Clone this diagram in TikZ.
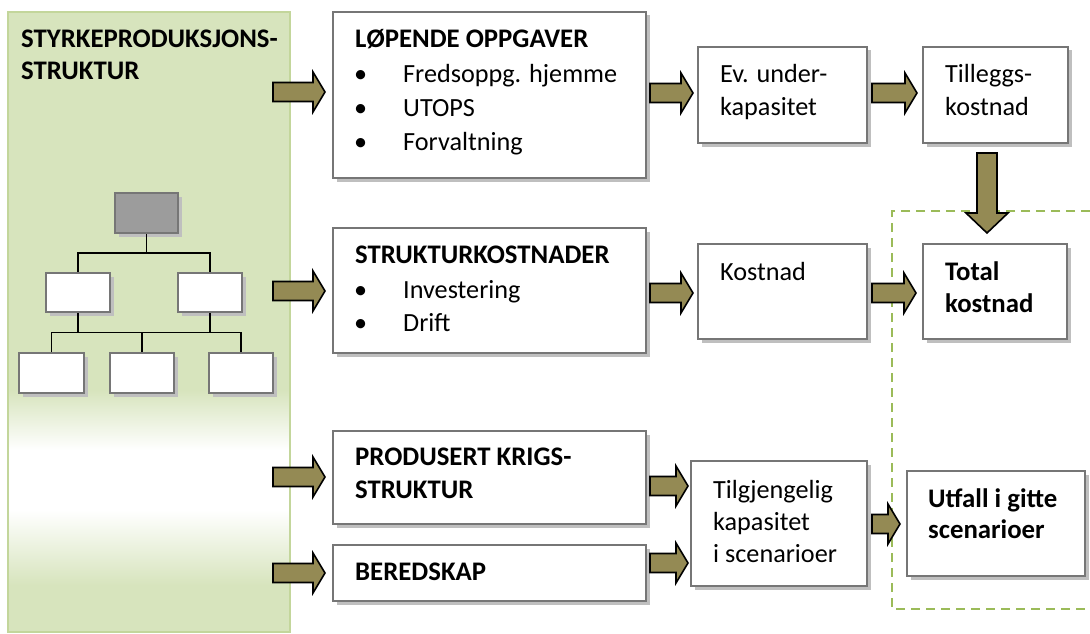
\documentclass[tikz,border=0pt]{standalone}
\usepackage{fontspec}
\setmainfont{Carlito}
\usetikzlibrary{calc,fit,shadows}
\definecolor{panelgreen}{HTML}{D7E4BD}
\definecolor{paneledge}{HTML}{C3D69B}
\definecolor{arrowfill}{HTML}{948A54}
\definecolor{boxedge}{HTML}{767676}
\definecolor{shadowgray}{HTML}{BFBFBF}
\definecolor{dashgreen}{HTML}{9BBB59}
\definecolor{topgray}{HTML}{9C9C9C}
\tikzset{
  box/.style={draw=boxedge, line width=2pt, fill=white, rectangle, inner sep=0pt,
    drop shadow={shadow xshift=3.5pt, shadow yshift=-3.5pt, fill=shadowgray, opacity=1}},
  txt/.style={anchor=base west, inner sep=0pt, font=\fontsize{26.2}{33}\selectfont},
  btxt/.style={anchor=base west, inner sep=0pt, font=\fontsize{26.8}{33}\selectfont\bfseries},
  fat/.style={draw=black, line width=1.6pt, fill=arrowfill, line join=miter},
  tree/.style={draw=black, line width=1.6pt},
}
\newcommand\harrow[3][12]{\draw[fat] let \p1=(#2), \p2=(#3) in
  (\x1,\y1+9.5pt) -- (\x2-#1pt,\y1+9.5pt) -- (\x2-#1pt,\y1+20pt) -- (\x2,\y1)
  -- (\x2-#1pt,\y1-20pt) -- (\x2-#1pt,\y1-9.5pt) -- (\x1,\y1-9.5pt) -- cycle;}
\newcommand\varrow[2]{\draw[fat] let \p1=(#1), \p2=(#2) in
  (\x1-10pt,\y1) -- (\x1-10pt,\y2+20pt) -- (\x1-21pt,\y2+20pt) -- (\x1,\y2)
  -- (\x1+21pt,\y2+20pt) -- (\x1+10pt,\y2+20pt) -- (\x1+10pt,\y1) -- cycle;}
\begin{document}
\begin{tikzpicture}[x=1pt,y=-1pt]
\useasboundingbox[fill=white] (0,0) rectangle (1090,634);
% left panel
\fill[panelgreen] (8,12) rectangle (290,390);
\shade[top color=panelgreen, bottom color=white] (8,390) rectangle (290,450);
\fill[white] (8,450) rectangle (290,510);
\shade[top color=white, bottom color=panelgreen] (8,510) rectangle (290,585);
\fill[panelgreen] (8,585) rectangle (290,632);
\node[draw=paneledge, line width=1.5pt, fit={(8,12) (290,632)}, inner sep=0pt] (panel) {};
\node[btxt] (ptitle1) at (21,48) {STYRKEPRODUKSJONS-};
\node[btxt] (ptitle2) at (21,80) {STRUKTUR};
% tree
\node[box, fill=topgray, fit={(115,193) (178,233)}] (top) {};
\node[box, fit={(46,273) (110,312)}] (m1) {};
\node[box, fit={(178,273) (242,312)}] (m2) {};
\node[box, fit={(19,353) (84,393)}] (t1) {};
\node[box, fit={(110,353) (174,393)}] (t2) {};
\node[box, fit={(209,353) (273,393)}] (t3) {};
\coordinate (bus1) at ($(top.south)!0.5!(top.south |- m1.north)$);
\coordinate (bus2) at ($(m1.south)!0.5!(m1.south |- t1.north)$);
\draw[tree] (top.south) -- (bus1);
\draw[tree] (m1.north) |- (bus1) -| (m2.north);
\draw[tree] (t1.north) |- (bus2) -| (t3.north);
\draw[tree] (m1.south) -- (bus2);
\draw[tree] (m2.south) -- (m2.south |- bus2);
\draw[tree] (t2.north) -- (t2.north |- bus2);
% dashed region
\draw[dashgreen, line width=2pt, dash pattern=on 9pt off 6pt] (1090,211) -- (892,211) -- (892,609) -- (1090,609);
% boxes
\node[box, fit={(333,12) (646,178)}] (lop) {};
\node[box, fit={(698,47) (867,143)}] (ev) {};
\node[box, fit={(923,47) (1068,143)}] (till) {};
\node[box, fit={(333,228) (646,353)}] (struk) {};
\node[box, fit={(698,244) (867,339)}] (kost) {};
\node[box, fit={(923,244) (1067,339)}] (total) {};
\node[box, fit={(333,431) (646,524)}] (prod) {};
\node[box, fit={(333,545) (646,601)}] (bered) {};
\node[box, fit={(691,461) (867,586)}] (tilg) {};
\node[box, fit={(907,471) (1085,576)}] (utfall) {};
% texts
\node[btxt] (l0) at (355,48) {LØPENDE OPPGAVER};
\node[txt] (l1b) at (354,83) {•};
\node[txt] (l1) at (403,83) {Fredsoppg. hjemme};
\node[txt] (l2b) at (354,117) {•};
\node[txt] (l2) at (403,117) {UTOPS};
\node[txt] (l3b) at (354,150) {•};
\node[txt] (l3) at (403,150) {Forvaltning};
\node[txt] (e1) at (720,83) {Ev. under-};
\node[txt] (e2) at (720,115) {kapasitet};
\node[txt] (ti1) at (945,83) {Tilleggs-};
\node[txt] (ti2) at (945,115) {kostnad};
\node[btxt] (s0) at (355,263) {STRUKTURKOSTNADER};
\node[txt] (s1b) at (354,298) {•};
\node[txt] (s1) at (403,298) {Investering};
\node[txt] (s2b) at (354,331) {•};
\node[txt] (s2) at (403,331) {Drift};
\node[txt] (k1) at (720,280) {Kostnad};
\node[btxt] (to1) at (945,280) {Total};
\node[btxt] (to2) at (945,312) {kostnad};
\node[btxt] (p1) at (355,465) {PRODUSERT KRIGS-};
\node[btxt] (p2) at (355,498) {STRUKTUR};
\node[btxt] (be1) at (355,580) {BEREDSKAP};
\node[txt] (tg1) at (713,498) {Tilgjengelig};
\node[txt] (tg2) at (713,530) {kapasitet};
\node[txt] (tg3) at (713,562) {i scenarioer};
\node[btxt] (u1) at (928,507) {Utfall i gitte};
\node[btxt] (u2) at (928,538) {scenarioer};
% arrow end points
\coordinate (a1s) at (273,92);  \coordinate (a1e) at (325,92);
\coordinate (a2s) at (650,93);  \coordinate (a2e) at (693,93);
\coordinate (a3s) at (872,93);  \coordinate (a3e) at (917,93);
\coordinate (a4s) at (987,153); \coordinate (a4e) at (987,233);
\coordinate (a5s) at (273,291); \coordinate (a5e) at (325,291);
\coordinate (a6s) at (650,293); \coordinate (a6e) at (693,293);
\coordinate (a7s) at (872,293); \coordinate (a7e) at (916,293);
\coordinate (a8s) at (273,477); \coordinate (a8e) at (325,477);
\coordinate (a9s) at (273,573); \coordinate (a9e) at (325,573);
\coordinate (a10s) at (650,486); \coordinate (a10e) at (688,486);
\coordinate (a11s) at (650,563); \coordinate (a11e) at (688,563);
\coordinate (a12s) at (872,524); \coordinate (a12e) at (900,524);
\harrow{a1s}{a1e}
\harrow{a2s}{a2e}
\harrow{a3s}{a3e}
\varrow{a4s}{a4e}
\harrow{a5s}{a5e}
\harrow{a6s}{a6e}
\harrow{a7s}{a7e}
\harrow{a8s}{a8e}
\harrow{a9s}{a9e}
\harrow{a10s}{a10e}
\harrow{a11s}{a11e}
\harrow{a12s}{a12e}
\end{tikzpicture}
\end{document}
